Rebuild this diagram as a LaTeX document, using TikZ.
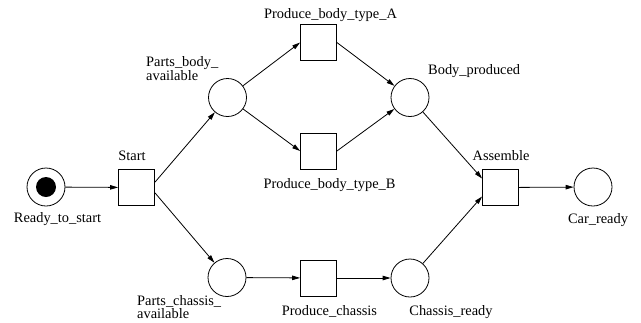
\documentclass[tikz,border=0pt]{standalone}
\usepackage{fontspec}
\setmainfont{Liberation Serif}
\usetikzlibrary{arrows.meta}
\begin{document}
\begin{tikzpicture}[x=1bp,y=-1bp,
  every node/.style={font=\fontsize{14.4bp}{13bp}\selectfont},
  place/.style={circle,draw,minimum size=38bp,inner sep=0,line width=0.8bp},
  trans/.style={rectangle,draw,minimum size=36bp,inner sep=0,line width=0.8bp},
  token/.style={circle,fill,minimum size=20bp,inner sep=0},
  lbl/.style={inner sep=0,anchor=base},
  lbll/.style={inner sep=0,anchor=north west,align=left},
  arc/.style={line width=0.8bp,-{Triangle[length=8bp,width=4.5bp]}}]
\useasboundingbox (0,0) rectangle (641,322);
% places and transitions
\node[place] (rts) at (46,187) {};
\node[token] (tok) at (46,187) {};
\node[trans] (start) at (136.5,187.5) {};
\node[place] (pba) at (227.5,97.5) {};
\node[trans] (pa) at (318.5,42.5) {};
\node[trans] (pb) at (318.5,151) {};
\node[place] (bp) at (410,97.5) {};
\node[place] (pca) at (227,277.5) {};
\node[trans] (pc) at (318.5,278) {};
\node[place] (cr) at (410,278) {};
\node[trans] (asm) at (500.5,187.5) {};
\node[place] (car) at (593,187) {};
% labels
\node[lbl] (l1) at (57.5,222) {Ready\_to\_start};
\node[lbl] (l2) at (132,160) {Start};
\node[lbl] (l3) at (330.5,18) {Produce\_body\_type\_A};
\node[lbl] (l4) at (329.5,188) {Produce\_body\_type\_B};
\node[lbll] (l5) at (146,56) {Parts\_body\_\\available};
\node[lbl,anchor=base west] (l6) at (428,74) {Body\_produced};
\node[lbl] (l7) at (501,160) {Assemble};
\node[lbl] (l8) at (598,223) {Car\_ready};
\node[lbll] (l9) at (137,295) {Parts\_chassis\_\\available};
\node[lbl] (l10) at (329.5,315) {Produce\_chassis};
\node[lbl] (l11) at (451,315) {Chassis\_ready};
% arcs
\draw[arc] (rts) -- (start);
\draw[arc] (start.16) -- (pba);
\draw[arc] (start.-16) -- (pca);
\draw[arc] (pba) -- (pa.west);
\draw[arc] (pba) -- (pb.west);
\draw[arc] (pa.east) -- (bp);
\draw[arc] (pb.east) -- (bp);
\draw[arc] (bp) -- (asm.154);
\draw[arc] (pca) -- (pc);
\draw[arc] (pc) -- (cr);
\draw[arc] (cr) -- (asm.206);
\draw[arc] (asm) -- (car);
\end{tikzpicture}
\end{document}
